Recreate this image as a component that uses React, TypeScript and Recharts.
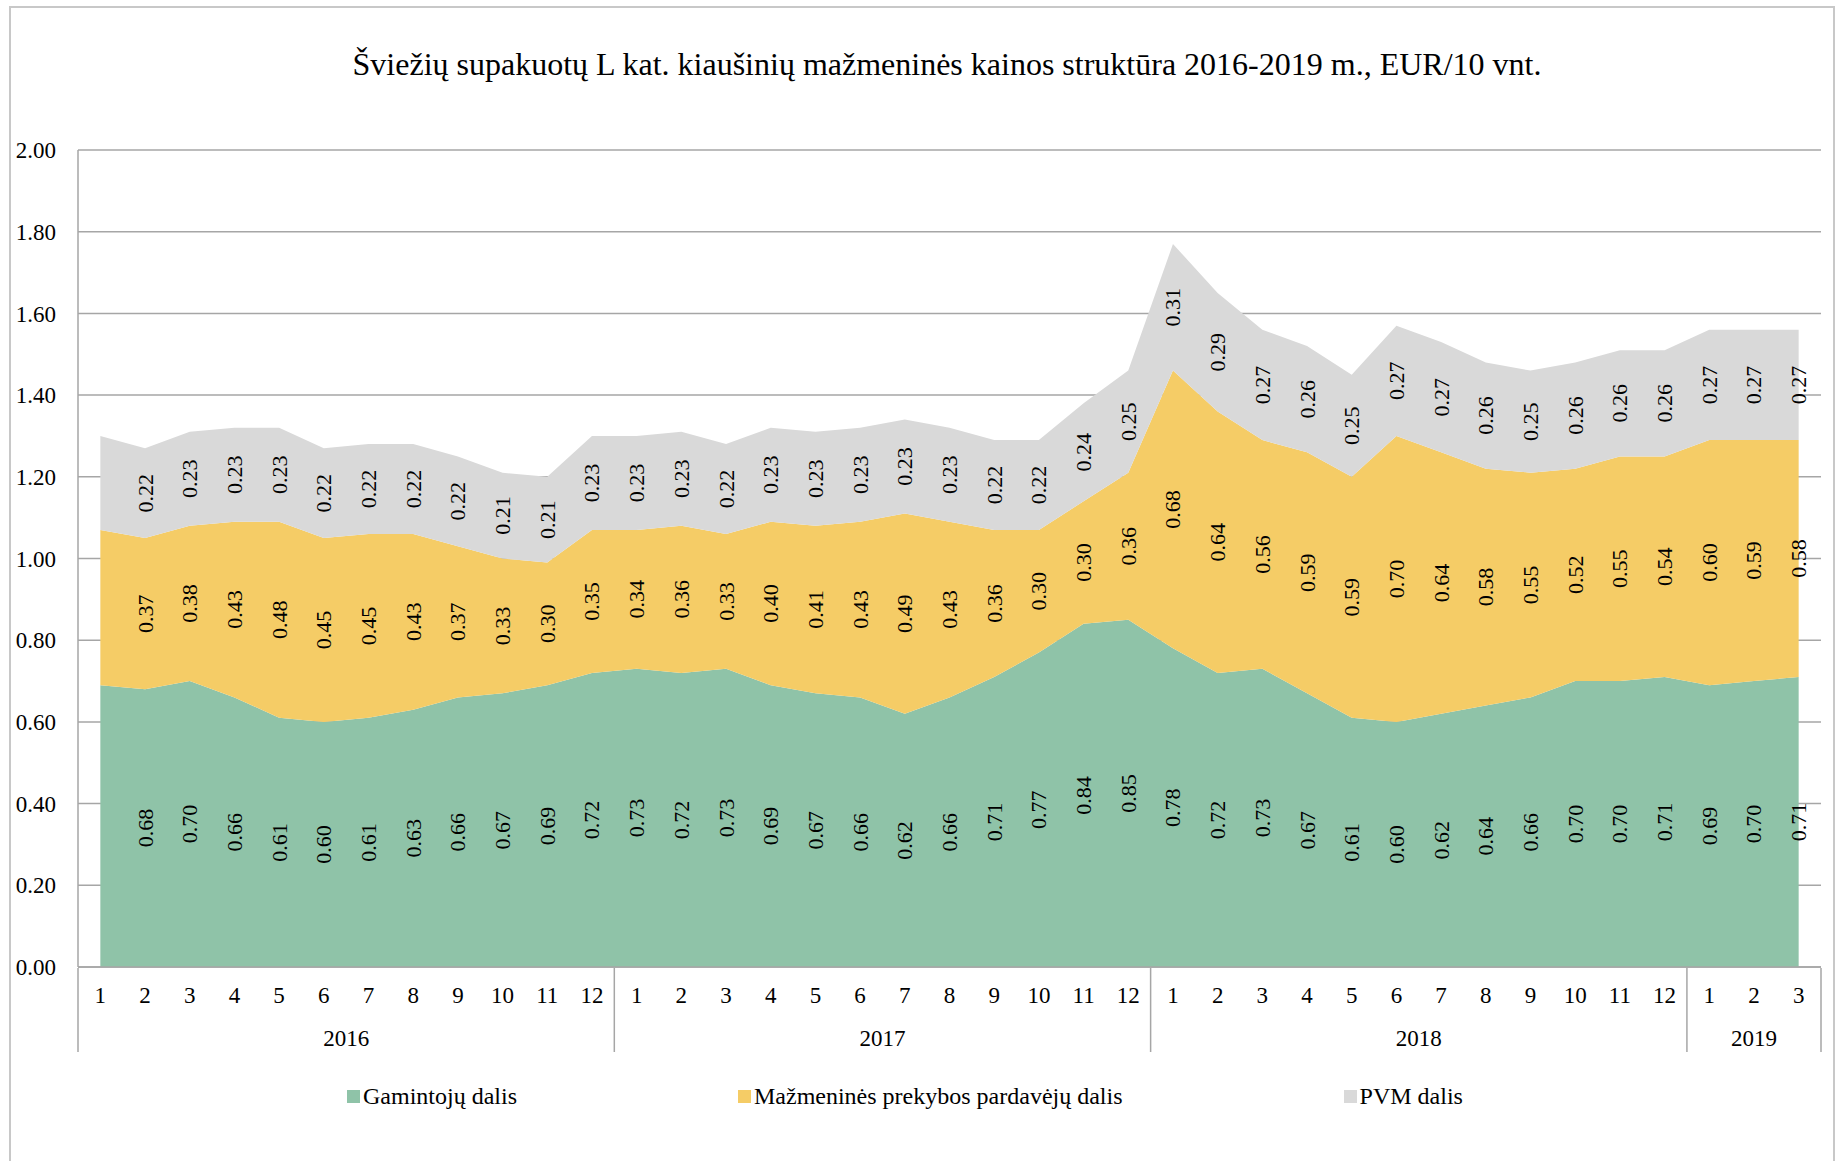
import { ComposedChart, Area, Line, XAxis, YAxis, CartesianGrid, LabelList } from 'recharts'

const FONT = '"Liberation Serif", "Times New Roman", serif'

const months = [
  1, 2, 3, 4, 5, 6, 7, 8, 9, 10, 11, 12,
  1, 2, 3, 4, 5, 6, 7, 8, 9, 10, 11, 12,
  1, 2, 3, 4, 5, 6, 7, 8, 9, 10, 11, 12,
  1, 2, 3,
]
const yearLabels = ['2016', '2017', '2018', '2019']
const yearLengths = [12, 12, 12, 3]

// Gamintojų dalis
const producer = [
  0.69, 0.68, 0.70, 0.66, 0.61, 0.60, 0.61, 0.63, 0.66, 0.67, 0.69, 0.72,
  0.73, 0.72, 0.73, 0.69, 0.67, 0.66, 0.62, 0.66, 0.71, 0.77, 0.84, 0.85,
  0.78, 0.72, 0.73, 0.67, 0.61, 0.60, 0.62, 0.64, 0.66, 0.70, 0.70, 0.71,
  0.69, 0.70, 0.71,
]
// Mažmeninės prekybos pardavėjų dalis
const retailer = [
  0.38, 0.37, 0.38, 0.43, 0.48, 0.45, 0.45, 0.43, 0.37, 0.33, 0.30, 0.35,
  0.34, 0.36, 0.33, 0.40, 0.41, 0.43, 0.49, 0.43, 0.36, 0.30, 0.30, 0.36,
  0.68, 0.64, 0.56, 0.59, 0.59, 0.70, 0.64, 0.58, 0.55, 0.52, 0.55, 0.54,
  0.60, 0.59, 0.58,
]
// PVM dalis
const vat = [
  0.23, 0.22, 0.23, 0.23, 0.23, 0.22, 0.22, 0.22, 0.22, 0.21, 0.21, 0.23,
  0.23, 0.23, 0.22, 0.23, 0.23, 0.23, 0.23, 0.23, 0.22, 0.22, 0.24, 0.25,
  0.31, 0.29, 0.27, 0.26, 0.25, 0.27, 0.27, 0.26, 0.25, 0.26, 0.26, 0.26,
  0.27, 0.27, 0.27,
]
const yTicks = [0, 0.2, 0.4, 0.6, 0.8, 1.0, 1.2, 1.4, 1.6, 1.8, 2.0]

const GREEN = '#8fc3a8'
const YELLOW = '#f5cc66'
const GREY = '#d9d9d9'
const LINE = '#a6a6a6'

// first month carries no labels in the original
const data = months.map((m, i) => ({
  x: i + 1,
  m,
  producer: producer[i],
  retailer: retailer[i],
  vat: vat[i],
  pLab: i === 0 ? null : producer[i],
  rLab: i === 0 ? null : retailer[i],
  vLab: i === 0 ? null : vat[i],
  pMid: i === 0 ? null : producer[i] / 2,
  rMid: i === 0 ? null : producer[i] + retailer[i] / 2,
  vMid: i === 0 ? null : producer[i] + retailer[i] + vat[i] / 2,
}))

// year groups: boundaries between them and the centre of each
const bounds: number[] = [0.5]
const centres: number[] = []
yearLengths.forEach(n => {
  const s = bounds[bounds.length - 1]
  centres.push(s + n / 2)
  bounds.push(s + n)
})

const VLabel = (props: any) => {
  const { x, y, value } = props
  if (value == null || y == null || Number.isNaN(y)) return null
  return (
    <text
      x={x}
      y={y}
      transform={`rotate(-90 ${x} ${y})`}
      textAnchor="middle"
      dominantBaseline="central"
      fontSize={22}
      fontFamily={FONT}
      fill="#000"
    >
      {Number(value).toFixed(2)}
    </text>
  )
}

const YearTick = (props: any) => {
  const { x, y, payload } = props
  const k = centres.indexOf(payload.value)
  if (k < 0) return null
  return (
    <text x={x} y={y} textAnchor="middle" dy="0.71em" fontSize={23} fontFamily={FONT} fill="#000">
      {yearLabels[k]}
    </text>
  )
}

const legendItems = [
  { name: 'Gamintojų dalis', color: GREEN },
  { name: 'Mažmeninės prekybos pardavėjų dalis', color: YELLOW },
  { name: 'PVM dalis', color: GREY },
]

export default function App() {
  return (
    <div style={{ position: 'absolute', left: 0, top: 0, width: 1839, height: 1161, background: '#fff', fontFamily: FONT, overflow: 'hidden' }}>
      <div style={{ position: 'absolute', left: 9, top: 6, width: 1822, height: 1200, border: '2px solid #c8c8c8' }} />
      <div style={{ position: 'absolute', left: 947, top: 44, transform: 'translateX(-50%)', whiteSpace: 'nowrap', fontSize: 32, lineHeight: '40px', color: '#000', fontFamily: FONT }}>
        Šviežių supakuotų L kat. kiaušinių mažmeninės kainos struktūra 2016-2019 m., EUR/10 vnt.
      </div>
      <div style={{ position: 'absolute', left: 0, top: 0 }}>
        <ComposedChart width={1839} height={1161} data={data} margin={{ top: 150, right: 18, bottom: 191, left: 0 }}>
          <CartesianGrid vertical={false} stroke={LINE} strokeWidth={1.5} />
          <YAxis
            width={78}
            domain={[0, 2]}
            ticks={yTicks}
            tickFormatter={(v: number) => v.toFixed(2)}
            tickSize={0}
            tickMargin={22}
            axisLine={{ stroke: LINE, strokeWidth: 1.5 }}
            tickLine={false}
            tick={{ fontSize: 23, fontFamily: FONT, fill: '#000' }}
            interval={0}
          />
          <XAxis
            xAxisId="m"
            dataKey="x"
            type="number"
            domain={[0.5, 39.5]}
            ticks={data.map(d => d.x)}
            tickFormatter={(v: number) => String(months[v - 1])}
            interval={0}
            height={1}
            tickSize={0}
            tickMargin={20}
            tickLine={false}
            axisLine={{ stroke: LINE, strokeWidth: 1.5 }}
            tick={{ fontSize: 23, fontFamily: FONT, fill: '#000' }}
          />
          <XAxis
            xAxisId="sep"
            dataKey="x"
            type="number"
            domain={[0.5, 39.5]}
            ticks={bounds}
            interval={0}
            height={1}
            tickSize={84}
            axisLine={false}
            tickLine={{ stroke: LINE, strokeWidth: 1.5 }}
            tick={() => <g />}
          />
          <XAxis
            xAxisId="yr"
            dataKey="x"
            type="number"
            domain={[0.5, 39.5]}
            ticks={centres}
            interval={0}
            height={1}
            tickSize={0}
            tickMargin={61}
            axisLine={false}
            tickLine={false}
            tick={<YearTick />}
          />
          <Area xAxisId="m" type="linear" dataKey="producer" stackId="s" fill={GREEN} fillOpacity={1} stroke="none" isAnimationActive={false} />
          <Area xAxisId="m" type="linear" dataKey="retailer" stackId="s" fill={YELLOW} fillOpacity={1} stroke="none" isAnimationActive={false} />
          <Area xAxisId="m" type="linear" dataKey="vat" stackId="s" fill={GREY} fillOpacity={1} stroke="none" isAnimationActive={false} />
          <Line xAxisId="m" dataKey="pMid" stroke="none" dot={false} activeDot={false} isAnimationActive={false}>
            <LabelList dataKey="pLab" content={<VLabel />} />
          </Line>
          <Line xAxisId="m" dataKey="rMid" stroke="none" dot={false} activeDot={false} isAnimationActive={false}>
            <LabelList dataKey="rLab" content={<VLabel />} />
          </Line>
          <Line xAxisId="m" dataKey="vMid" stroke="none" dot={false} activeDot={false} isAnimationActive={false}>
            <LabelList dataKey="vLab" content={<VLabel />} />
          </Line>
        </ComposedChart>
      </div>
      <div style={{ position: 'absolute', left: 347, top: 1083, display: 'flex', alignItems: 'center', gap: 221, fontSize: 24, whiteSpace: 'nowrap', fontFamily: FONT }}>
        {legendItems.map(it => (
          <div key={it.name} style={{ display: 'flex', alignItems: 'center' }}>
            <span style={{ display: 'inline-block', width: 13, height: 13, background: it.color, marginRight: 3 }} />
            <span>{it.name}</span>
          </div>
        ))}
      </div>
    </div>
  )
}
